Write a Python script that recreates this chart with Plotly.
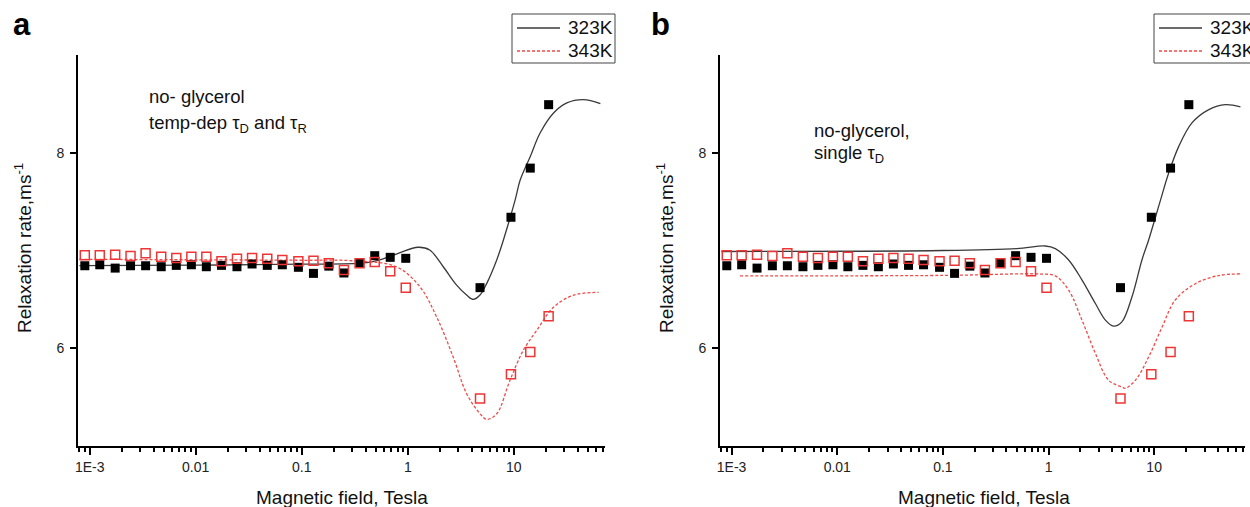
import plotly.graph_objects as go
from plotly.subplots import make_subplots

# ---------------- data ----------------
field = [9.0e-4, 1.245e-3, 1.74e-3, 2.43e-3, 3.37e-3, 4.73e-3, 6.56e-3, 9.1e-3,
         0.0126, 0.0175, 0.0245, 0.034, 0.0473, 0.0656, 0.093, 0.129, 0.18, 0.25,
         0.351, 0.488, 0.683, 0.957, 4.8, 9.4, 14.3, 21.3]
rate_323 = [6.844, 6.854, 6.82, 6.844, 6.844, 6.834, 6.848, 6.854, 6.834, 6.848,
            6.834, 6.862, 6.848, 6.854, 6.828, 6.766, 6.84, 6.77, 6.87, 6.947,
            6.93, 6.92, 6.62, 7.34, 7.843, 8.492]
rate_343 = [6.951, 6.951, 6.957, 6.944, 6.971, 6.936, 6.923, 6.936, 6.936, 6.889,
            6.916, 6.923, 6.916, 6.903, 6.889, 6.895, 6.869, 6.8, 6.869, 6.882,
            6.787, 6.618, 5.487, 5.733, 5.962, 6.328]

# fit curves, panel a (temp-dep tau_D and tau_R)
fit_a_323_x = [8e-4, 0.01, 0.1, 0.44, 0.78, 1.25, 1.61, 2.16, 2.89, 3.59, 4.15, 4.8,
               5.56, 6.9, 7.98, 10.3, 11.5, 14.3, 17.7, 23.7, 31.6, 45.5, 65.5]
fit_a_323_y = [6.845, 6.85, 6.86, 6.88, 6.964, 7.033, 7.005, 6.834, 6.646, 6.544, 6.5,
               6.544, 6.664, 6.903, 7.108, 7.518, 7.723, 7.962, 8.202, 8.407, 8.51,
               8.544, 8.503]
fit_a_343_x = [8e-4, 0.01, 0.1, 0.3, 0.78, 1.3, 1.87, 2.68, 3.59, 4.8, 5.56, 6.9, 9.2,
               12.3, 16.5, 23.7, 36.7, 63]
fit_a_343_y = [6.91, 6.905, 6.9, 6.895, 6.834, 6.629, 6.321, 5.911, 5.535, 5.33, 5.272,
               5.33, 5.672, 5.979, 6.185, 6.42, 6.544, 6.571]

# fit curves, panel b (single tau_D)
fit_b_323_x = [8e-4, 0.1, 0.5, 0.93, 1.16, 1.55, 2.07, 2.77, 3.44, 4.13, 4.95, 6.17,
               7.66, 8.87, 11.5, 13.7, 17.1, 22.8, 32.9, 47.3, 65.6]
fit_b_323_y = [6.99, 7.0, 7.02, 7.046, 7.02, 6.903, 6.70, 6.46, 6.29, 6.226, 6.27,
               6.527, 6.903, 7.108, 7.518, 7.79, 8.065, 8.305, 8.441, 8.492, 8.469]
fit_b_343_x = [1.2e-3, 0.1, 0.86, 1.16, 1.55, 2.07, 2.77, 3.71, 4.95, 5.33, 6.64, 8.87,
               11.9, 15.8, 24.5, 40.8, 65.6]
fit_b_343_y = [6.74, 6.745, 6.759, 6.74, 6.595, 6.29, 5.95, 5.672, 5.604, 5.59, 5.672,
               5.911, 6.218, 6.492, 6.66, 6.744, 6.76]

x_tickvals = [0.001, 0.01, 0.1, 1, 10]
x_ticktext = ["1E-3", "0.01", "0.1", "1", "10"]
y_tickvals = [6, 8]
series_names = ["323K", "343K"]

# ---------------- style ----------------
FONT = "Arial, Liberation Sans, sans-serif"
BLACK_LINE = "#3a3a3a"
RED_LINE = "#f04a4a"
RED_MARK = "#ee3535"
W, H = 1250, 507


def px(x):
    return x / W


def py(y):
    return 1 - y / H


fig = make_subplots(rows=1, cols=2)

panels = [
    (1, fit_a_323_x, fit_a_323_y, fit_a_343_x, fit_a_343_y),
    (2, fit_b_323_x, fit_b_323_y, fit_b_343_x, fit_b_343_y),
]
for col, x3, y3, x4, y4 in panels:
    fig.add_trace(go.Scatter(x=x3, y=y3, mode="lines", name=series_names[0],
                             line=dict(color=BLACK_LINE, width=1.3, shape="spline")),
                  row=1, col=col)
    fig.add_trace(go.Scatter(x=x4, y=y4, mode="lines", name=series_names[1],
                             line=dict(color=RED_LINE, width=1.3, dash="3px,2px",
                                       shape="spline")),
                  row=1, col=col)
    fig.add_trace(go.Scatter(x=field, y=rate_323, mode="markers", name=series_names[0],
                             marker=dict(symbol="square", size=9, color="black",
                                         line=dict(width=0))), row=1, col=col)
    fig.add_trace(go.Scatter(x=field, y=rate_343, mode="markers", name=series_names[1],
                             marker=dict(symbol="square-open", size=9, color=RED_MARK,
                                         line=dict(width=1.5, color=RED_MARK))),
                  row=1, col=col)

minor_vals = [m * 10 ** e for e in range(-4, 2) for m in range(2, 10)]

xdom = [[px(78), px(605)], [px(720), px(1245)]]
ydom = [py(446), py(55)]
for i, ax in enumerate(["xaxis", "xaxis2"]):
    fig.layout[ax].update(
        type="log", range=[-3.11, 1.86], domain=xdom[i],
        showline=True, linecolor="black", linewidth=2, showgrid=False, zeroline=False,
        ticks="outside", ticklen=7, tickwidth=1.5, tickcolor="black",
        tickvals=x_tickvals, ticktext=x_ticktext,
        tickfont=dict(family=FONT, size=14, color="#222"),
        minor=dict(tickvals=minor_vals, ticks="outside", ticklen=4, tickwidth=1.5,
                   tickcolor="black", showgrid=False),
        anchor="y" if i == 0 else "y2",
    )
for i, ax in enumerate(["yaxis", "yaxis2"]):
    fig.layout[ax].update(
        range=[5, 9], domain=ydom,
        showline=True, linecolor="black", linewidth=2, showgrid=False, zeroline=False,
        ticks="outside", ticklen=6, tickwidth=1.5, tickcolor="black",
        tickvals=y_tickvals, ticklabelstandoff=3,
        tickfont=dict(family=FONT, size=14, color="#222"),
        anchor="x" if i == 0 else "x2",
    )

# ---------------- legends (boxes drawn per panel) ----------------
shapes = []
annots = []
for x0 in [512, 1154]:
    shapes.append(dict(type="rect", xref="paper", yref="paper",
                       x0=px(x0), x1=px(x0 + 103), y0=py(63), y1=py(14),
                       line=dict(color="#444", width=1), fillcolor="white"))
    shapes.append(dict(type="line", xref="paper", yref="paper",
                       x0=px(x0 + 5), x1=px(x0 + 48), y0=py(28), y1=py(28),
                       line=dict(color=BLACK_LINE, width=1.3)))
    shapes.append(dict(type="line", xref="paper", yref="paper",
                       x0=px(x0 + 5), x1=px(x0 + 48), y0=py(51), y1=py(51),
                       line=dict(color=RED_LINE, width=1.3, dash="3px,2px")))
    for name, yc in zip(series_names, [28, 51]):
        annots.append(dict(text=name, x=px(x0 + 54), y=py(yc), xanchor="left",
                           yanchor="middle",
                           font=dict(family=FONT, size=19, color="#111")))

# panel labels
for lab, x0 in [("a", 11), ("b", 649)]:
    annots.append(dict(text="<b>%s</b>" % lab, x=px(x0), y=py(44), xanchor="left",
                       yanchor="bottom", font=dict(family=FONT, size=31, color="black")))
# inner labels
inner = [("no- glycerol", 147, 96.5), ("temp-dep τ<sub>D</sub> and τ<sub>R</sub>", 147, 124),
         ("no-glycerol,", 812, 130), ("single τ<sub>D</sub>", 812, 154)]
for txt, x0, yc in inner:
    annots.append(dict(text=txt, x=px(x0), y=py(yc), xanchor="left", yanchor="middle",
                       align="left", font=dict(family=FONT, size=18.5, color="#111")))
# axis titles
for xc in [341.5, 983.5]:
    annots.append(dict(text="Magnetic field, Tesla", x=px(xc), y=py(497),
                       xanchor="center", yanchor="middle",
                       font=dict(family=FONT, size=19, color="#111")))
for xc in [23, 665]:
    annots.append(dict(text="Relaxation rate,ms<sup>-1</sup>", x=px(xc), y=py(248),
                       xanchor="center", yanchor="middle", textangle=-90,
                       font=dict(family=FONT, size=19, color="#111")))
for a in annots:
    a.update(xref="paper", yref="paper", showarrow=False)

fig.update_layout(
    annotations=annots, shapes=shapes, showlegend=False,
    width=W, height=H, margin=dict(l=0, r=0, t=0, b=0, autoexpand=False),
    paper_bgcolor="white", plot_bgcolor="white",
    font=dict(family=FONT, color="#111"),
)

fig.write_html("out.html")
